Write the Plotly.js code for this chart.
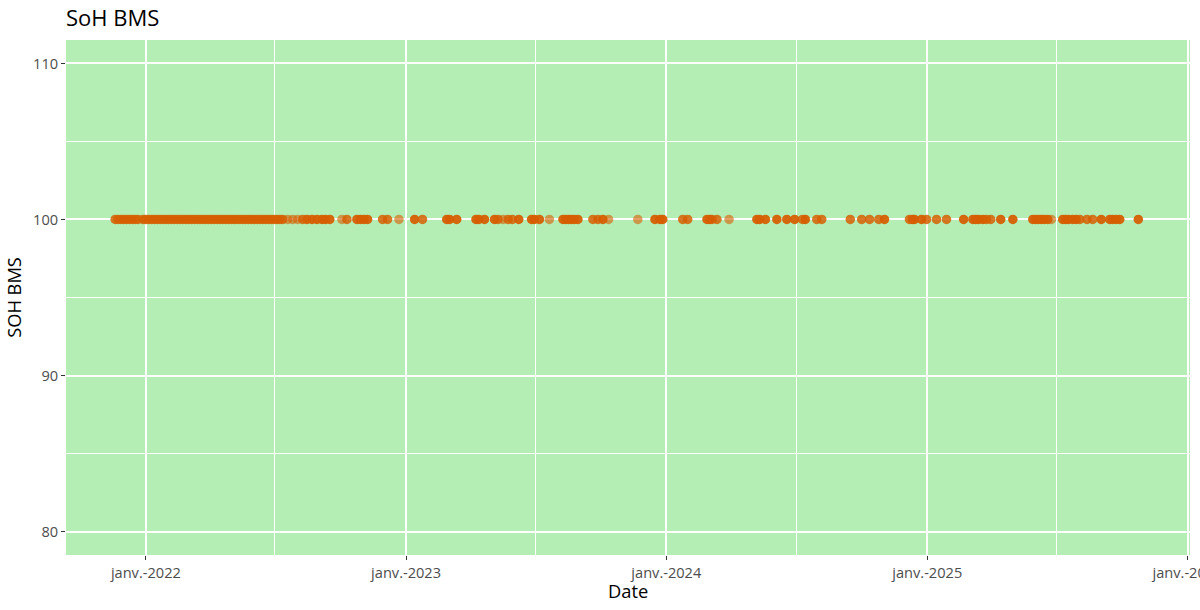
<!DOCTYPE html>
<html>
<head>
<meta charset="utf-8">
<script src="https://cdn.plot.ly/plotly-3.0.1.min.js"></script>
<style>html,body{margin:0;padding:0;background:#fff;}#chart{width:1200px;height:610px;}</style>
</head>
<body>
<div id="chart"></div>
<script>
// Measurement dates (SoH BMS readings)
var dates = [
  "2021-11-19","2021-11-23","2021-11-27","2021-12-01","2021-12-05","2021-12-09","2021-12-13","2021-12-17","2021-12-21",
  "2021-12-28",
  "2022-01-01","2022-01-05","2022-01-09","2022-01-13","2022-01-17","2022-01-21","2022-01-25","2022-01-29",
  "2022-02-02","2022-02-06","2022-02-10","2022-02-14","2022-02-18","2022-02-22","2022-02-26",
  "2022-03-02","2022-03-06","2022-03-10","2022-03-14","2022-03-18","2022-03-22","2022-03-26","2022-03-30",
  "2022-04-03","2022-04-07","2022-04-11","2022-04-15","2022-04-19","2022-04-23","2022-04-27",
  "2022-05-01","2022-05-05","2022-05-09","2022-05-13","2022-05-17","2022-05-21","2022-05-25","2022-05-29",
  "2022-06-02","2022-06-06","2022-06-10","2022-06-14","2022-06-18","2022-06-22","2022-06-26","2022-06-30",
  "2022-07-04","2022-07-08","2022-07-12",
  "2022-07-19","2022-07-26","2022-08-02","2022-08-09","2022-08-15","2022-08-22","2022-08-29",
  "2022-09-05","2022-09-10","2022-09-16","2022-10-03","2022-10-10","2022-10-24","2022-10-29",
  "2022-11-03","2022-11-08","2022-11-29","2022-12-06","2022-12-22",
  "2023-01-13","2023-01-24","2023-02-27","2023-03-03","2023-03-13",
  "2023-04-09","2023-04-13","2023-04-21","2023-05-05","2023-05-10","2023-05-17","2023-05-24","2023-05-30",
  "2023-06-08","2023-06-26","2023-06-30","2023-07-07","2023-07-21",
  "2023-08-09","2023-08-13","2023-08-17","2023-08-21","2023-08-25","2023-08-30",
  "2023-09-20","2023-09-27","2023-10-04","2023-10-12","2023-11-22",
  "2023-12-16","2023-12-23","2023-12-27",
  "2024-01-24","2024-01-31","2024-02-27","2024-03-02","2024-03-05","2024-03-12","2024-03-29",
  "2024-05-07","2024-05-11","2024-05-19","2024-06-04","2024-06-18","2024-06-29",
  "2024-07-10","2024-07-14","2024-07-30","2024-08-06",
  "2024-09-15","2024-10-01","2024-10-12","2024-10-25","2024-11-02",
  "2024-12-07","2024-12-11","2024-12-14","2024-12-24","2024-12-31",
  "2025-01-14","2025-01-28","2025-02-21","2025-03-06","2025-03-10","2025-03-14","2025-03-20","2025-03-25","2025-03-31",
  "2025-04-14","2025-05-01","2025-05-29","2025-06-02","2025-06-06","2025-06-10","2025-06-14","2025-06-19","2025-06-24",
  "2025-07-10","2025-07-14","2025-07-18","2025-07-24","2025-07-29","2025-08-03","2025-08-13","2025-08-21",
  "2025-09-02","2025-09-14","2025-09-18","2025-09-23","2025-09-28","2025-10-24"
];
// Number of readings recorded on each date (overlapping points)
var readings = [
  2,2,2,2,2,2,2,2,2,
  2,
  2,2,2,2,2,2,2,2,
  2,2,2,2,2,2,2,
  2,2,2,2,2,2,2,2,
  2,2,2,2,2,2,2,
  2,2,2,2,2,2,2,2,
  2,2,2,2,2,2,2,2,
  2,2,2,
  1,1,1,2,3,3,3,
  3,3,3,1,2,3,3,
  3,3,2,2,1,
  3,2,3,3,3,
  3,3,3,3,2,1,2,2,
  3,3,3,3,1,
  3,3,3,3,3,3,
  2,2,3,1,1,
  3,3,3,
  2,2,3,3,2,2,1,
  3,3,3,3,3,3,
  2,3,2,2,
  2,2,2,2,3,
  2,3,3,3,2,
  2,2,3,3,3,3,3,2,2,
  3,3,3,3,3,3,3,3,1,
  3,3,3,3,3,2,2,2,
  3,3,3,3,3,3
];
// SoH BMS values (%)
var soh = [];
for (var i = 0; i < dates.length; i++) soh.push(100);

var xTickVals = ["2022-01-01","2023-01-01","2024-01-01","2025-01-01","2026-01-01"];
var xTickText = ["janv.-2022","janv.-2023","janv.-2024","janv.-2025","janv.-2026"];
var xMinorVals = ["2022-07-01","2023-07-01","2024-07-01","2025-07-01"];
var yTickVals = [80, 90, 100, 110];
var yMinorVals = [85, 95, 105];

var opac = readings.map(function(n){ return 1 - Math.pow(0.4, n); });

var trace = {
  type: "scatter",
  mode: "markers",
  x: dates,
  y: soh,
  marker: {size: 9.5, color: "rgb(213,94,0)", opacity: opac, line: {width: 0}},
  hoverinfo: "x+y",
  showlegend: false
};

var layout = {
  width: 1200, height: 610,
  margin: {l: 66, r: 10, t: 40, b: 55},
  paper_bgcolor: "#ffffff",
  plot_bgcolor: "rgb(180,238,181)",
  font: {family: "Open Sans, sans-serif", color: "#000"},
  title: {text: "SoH BMS", font: {size: 22, color: "#000"}, x: 66/1200, xanchor: "left", xref: "container",
          y: 1 - 18/610, yanchor: "middle", yref: "container"},
  xaxis: {
    type: "date",
    range: ["2021-09-11", "2026-01-04 12:00"],
    tickmode: "array", tickvals: xTickVals, ticktext: xTickText,
    ticks: "outside", ticklen: 4, tickwidth: 1.1, tickcolor: "rgb(51,51,51)",
    tickfont: {size: 14.6, color: "rgb(77,77,77)"},
    ticklabeloverflow: "allow",
    showgrid: true, gridcolor: "#ffffff", gridwidth: 1.9,
    minor: {tickmode: "array", tickvals: xMinorVals, showgrid: true, gridcolor: "#ffffff", gridwidth: 0.9, ticks: ""},
    zeroline: false, showline: false
  },
  yaxis: {
    range: [78.5, 111.5],
    tickmode: "array", tickvals: yTickVals,
    ticks: "outside", ticklen: 4, tickwidth: 1.1, tickcolor: "rgb(51,51,51)",
    tickfont: {size: 14.6, color: "rgb(77,77,77)"},
    showgrid: true, gridcolor: "#ffffff", gridwidth: 1.9,
    minor: {tickmode: "array", tickvals: yMinorVals, showgrid: true, gridcolor: "#ffffff", gridwidth: 0.9, ticks: ""},
    zeroline: false, showline: false,
    title: {text: "SOH BMS", font: {size: 18.3, color: "#000"}, standoff: 6}
  },
  annotations: [{
    text: "Date", xref: "paper", yref: "paper", x: 0.5, y: -0.068,
    xanchor: "center", yanchor: "middle", showarrow: false,
    font: {size: 18.3, color: "#000"}
  }]
};

Plotly.newPlot("chart", [trace], layout, {displayModeBar: false, responsive: false});
</script>
</body>
</html>
